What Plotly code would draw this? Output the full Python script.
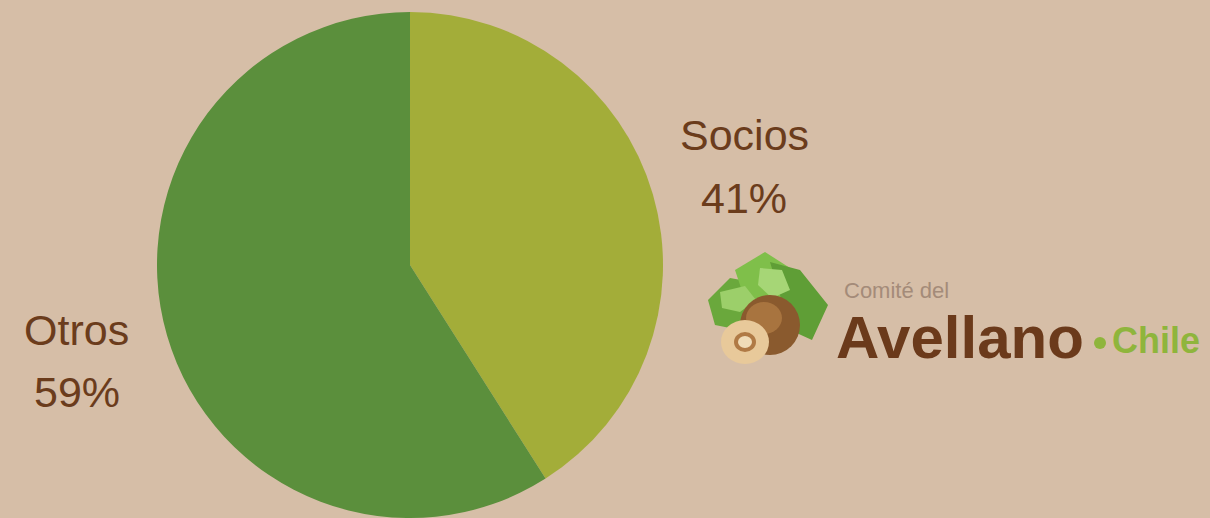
import plotly.graph_objects as go

# ---- data ----
labels = ["Socios", "Otros"]
values = [41, 59]
colors = ["#a3ad39", "#5b8f3c"]

W, H = 1210, 518
BG = "#d6bea7"
TXT = "#6b3c1c"

def px(x):
    return x / W

def py(y):
    return 1 - y / H

fig = go.Figure()
fig.add_trace(go.Pie(
    labels=labels, values=values, sort=False, direction="clockwise", rotation=0,
    marker=dict(colors=colors, line=dict(width=0)),
    textinfo="none", hoverinfo="skip", showlegend=False,
    domain=dict(x=[157 / W, 663 / W], y=[0, 506 / H]),
))

total = sum(values)
label_pos = {"Socios": (744, 135, 198), "Otros": (77, 330, 392)}
anns = []
for lab, v in zip(labels, values):
    cx, y1, y2 = label_pos[lab]
    pct = f"{round(100 * v / total)}%"
    for t, yy in ((lab, y1), (pct, y2)):
        anns.append(dict(x=px(cx), y=py(yy), xref="paper", yref="paper", text=t,
                         showarrow=False, xanchor="center", yanchor="middle",
                         font=dict(family="Liberation Sans, Arial, sans-serif", size=43, color=TXT)))

# logo text
anns.append(dict(x=px(842), y=py(290), xref="paper", yref="paper", text="Comité del",
                 showarrow=False, xanchor="left", yanchor="middle",
                 font=dict(family="Liberation Sans, Arial, sans-serif", size=22, color="#a48b79")))
anns.append(dict(x=px(834), y=py(337), xref="paper", yref="paper", text="<b>Avellano</b>",
                 showarrow=False, xanchor="left", yanchor="middle",
                 font=dict(family="Liberation Sans, Arial, sans-serif", size=60, color="#6b3a1b")))
anns.append(dict(x=px(1110), y=py(340), xref="paper", yref="paper", text="<b>Chile</b>",
                 showarrow=False, xanchor="left", yanchor="middle",
                 font=dict(family="Liberation Sans, Arial, sans-serif", size=36, color="#8fb53c")))

shapes = []
def circle(cx, cy, rx, ry, color, line=None):
    shapes.append(dict(type="circle", xref="paper", yref="paper",
                       x0=px(cx - rx), x1=px(cx + rx), y0=py(cy + ry), y1=py(cy - ry),
                       fillcolor=color, line=dict(width=0) if line is None else line,
                       layer="above"))

def path(points, color):
    d = "M " + " L ".join(f"{px(x):.5f},{py(y):.5f}" for x, y in points) + " Z"
    shapes.append(dict(type="path", xref="paper", yref="paper", path=d,
                       fillcolor=color, line=dict(width=0), layer="above"))

# dot before Chile
circle(1100, 343, 6, 6, "#8fb53c")

# leaves
path([(708, 300), (730, 278), (752, 282), (760, 310), (740, 330), (715, 325)], "#6aa83c")
path([(735, 270), (765, 252), (790, 268), (795, 300), (770, 315), (745, 300)], "#7fbf4a")
path([(770, 262), (800, 270), (828, 305), (812, 340), (790, 330), (780, 295)], "#5f9e36")
path([(720, 292), (745, 286), (756, 300), (740, 312), (722, 308)], "#9ccf6a")
path([(760, 268), (782, 270), (790, 290), (772, 298), (758, 285)], "#a6d676")
# whole nut
circle(770, 325, 30, 30, "#8a5a2e")
circle(764, 318, 18, 16, "#a8743f")
# cut half
circle(745, 342, 24, 22, "#e8c99a")
circle(745, 342, 11, 10, "#b07a45")
circle(745, 342, 7, 6, "#f0dcb8")

fig.update_layout(
    width=W, height=H, margin=dict(l=0, r=0, t=0, b=0),
    paper_bgcolor=BG, plot_bgcolor=BG,
    annotations=anns, shapes=shapes,
)
fig.write_html("out.html", config={"displayModeBar": False},
               post_script="document.body.style.margin='0';document.body.style.overflow='hidden';")
